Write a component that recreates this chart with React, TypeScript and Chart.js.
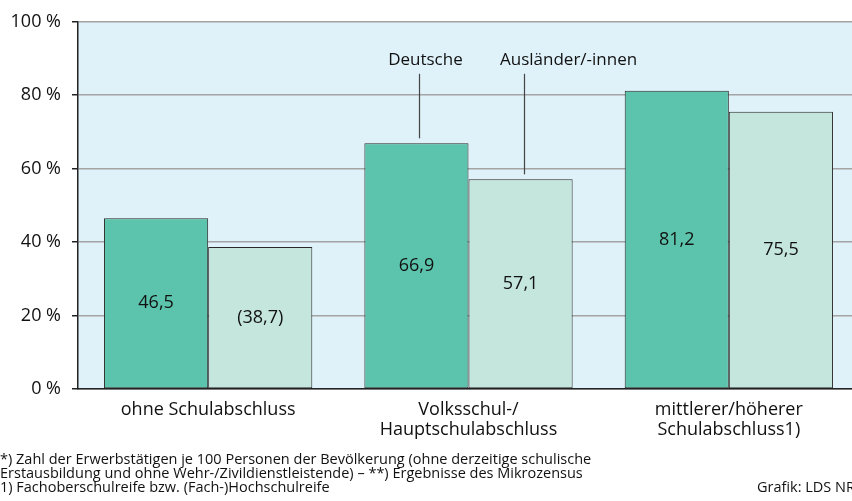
import React, { useEffect, useRef } from "react";
import { Chart, registerables } from "chart.js";

Chart.register(...registerables);

const categories: string[][] = [
  ["ohne Schulabschluss"],
  ["Volksschul-/", "Hauptschulabschluss"],
  ["mittlerer/höherer", "Schulabschluss1)"],
];
const seriesNames = ["Deutsche", "Ausländer/-innen"];
const deutsche = [46.5, 66.9, 81.2];
const auslaender = [38.7, 57.1, 75.5];
const auslaenderUncertain = [true, false, false];
const yTicks = [0, 20, 40, 60, 80, 100];
const footnotes = [
  "*) Zahl der Erwerbstätigen je 100 Personen der Bevölkerung (ohne derzeitige schulische",
  "Erstausbildung und ohne Wehr-/Zivildienstleistende) – **) Ergebnisse des Mikrozensus",
  "1) Fachoberschulreife bzw. (Fach-)Hochschulreife",
];
const source = "Grafik: LDS NRW";

const FONT = "'Open Sans', 'Noto Sans', sans-serif";

const fmt = (v: number) => v.toFixed(1).replace(".", ",");

const bgPlugin = {
  id: "plotBg",
  beforeDraw(chart: any) {
    const { ctx, chartArea } = chart;
    ctx.save();
    ctx.fillStyle = "#dff1f9";
    ctx.fillRect(chartArea.left, chartArea.top, chartArea.right - chartArea.left, chartArea.bottom - chartArea.top);
    ctx.restore();
  },
};

const overlayPlugin = {
  id: "overlay",
  afterDatasetsDraw(chart: any) {
    const { ctx, chartArea } = chart;
    ctx.save();
    // value labels
    ctx.fillStyle = "#111";
    ctx.font = `18px ${FONT}`;
    ctx.textAlign = "center";
    ctx.textBaseline = "middle";
    chart.data.datasets.forEach((ds: any, di: number) => {
      const meta = chart.getDatasetMeta(di);
      meta.data.forEach((bar: any, i: number) => {
        const v = ds.data[i];
        let t = fmt(v);
        if (di === 1 && auslaenderUncertain[i]) t = `(${t})`;
        ctx.fillText(t, bar.x, (bar.y + bar.base) / 2);
      });
    });
    // series annotations on the middle group
    const b0 = chart.getDatasetMeta(0).data[1];
    const b1 = chart.getDatasetMeta(1).data[1];
    ctx.strokeStyle = "#444";
    ctx.lineWidth = 1.2;
    const lineTop = chartArea.top + 52;
    [
      { bar: b0, dx: 9, name: seriesNames[0] },
      { bar: b1, dx: 48, name: seriesNames[1] },
    ].forEach(({ bar, dx, name }) => {
      const lx = Math.round(bar.x + 3) + 0.5;
      ctx.beginPath();
      ctx.moveTo(lx, lineTop);
      ctx.lineTo(lx, bar.y - 5);
      ctx.stroke();
      ctx.font = `17px ${FONT}`;
      ctx.fillStyle = "#111";
      ctx.fillText(name, bar.x + dx, chartArea.top + 38);
    });
    // footnotes
    ctx.textAlign = "left";
    ctx.textBaseline = "alphabetic";
    ctx.font = `14.5px ${FONT}`;
    ctx.fillStyle = "#111";
    footnotes.forEach((f, i) => {
      ctx.fillText(f, 0, 464 + i * 14);
    });
    ctx.fillText(source, 757, 492);
    ctx.restore();
  },
};

export default function App() {
  const ref = useRef<HTMLCanvasElement | null>(null);
  useEffect(() => {
    if (!ref.current) return;
    const chart = new Chart(ref.current, {
      type: "bar",
      data: {
        labels: categories,
        datasets: [
          {
            label: seriesNames[0],
            data: deutsche,
            backgroundColor: "#5cc4ac",
            borderColor: "#2a2a2a",
            borderWidth: 1,
            borderSkipped: false,
          },
          {
            label: seriesNames[1],
            data: auslaender,
            backgroundColor: "#c4e6dc",
            borderColor: "#2a2a2a",
            borderWidth: 1,
            borderSkipped: false,
          },
        ],
      },
      options: {
        responsive: false,
        animation: false,
        devicePixelRatio: 1,
        layout: { padding: { top: 21, left: 0, right: 0, bottom: 0 } },
        plugins: {
          legend: { display: false },
          title: { display: false },
          tooltip: { enabled: false },
        },
        datasets: { bar: { categoryPercentage: 0.8, barPercentage: 1.0 } },
        scales: {
          x: {
            grid: { display: false, drawTicks: false },
            border: { display: true, color: "#222", width: 1.5 },
            ticks: {
              color: "#111",
              font: { family: FONT, size: 18, lineHeight: 1.1 },
              padding: 11,
              maxRotation: 0,
              autoSkip: false,
            },
            afterFit(scale: any) {
              scale.height = 112;
            },
          },
          y: {
            min: 0,
            max: 100,
            afterBuildTicks(scale: any) {
              scale.ticks = yTicks.map((v) => ({ value: v }));
            },
            grid: {
              color: "#a4a4a4",
              lineWidth: 1.5,
              tickColor: "#222",
              tickLength: 6,
              tickWidth: 1.5,
            },
            border: { display: true, color: "#222", width: 1.5 },
            ticks: {
              color: "#111",
              font: { family: FONT, size: 18 },
              padding: 11,
              callback: (v: any) => `${v} %`,
            },
            afterFit(scale: any) {
              scale.width = 78;
            },
          },
        },
      },
      plugins: [bgPlugin, overlayPlugin],
    });
    return () => chart.destroy();
  }, []);
  return (
    <div
      style={{
        position: "fixed",
        left: 0,
        top: 0,
        width: 852,
        height: 501,
        overflow: "hidden",
        background: "#fff",
      }}
    >
      <canvas ref={ref} width={859} height={501} style={{ width: 859, height: 501, display: "block" }} />
    </div>
  );
}
